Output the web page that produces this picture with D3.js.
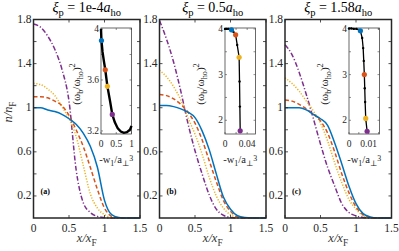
<!DOCTYPE html>
<html>
<head>
<meta charset="utf-8">
<script src="https://cdn.jsdelivr.net/npm/d3@7"></script>
<style>
body { margin: 0; background: #fff; }
svg { display: block; }
text { font-family: "Liberation Serif", "Times New Roman", "DejaVu Serif", serif; }
</style>
</head>
<body>
<svg id="fig" width="399" height="251"></svg>
<script>
// main density profiles, sampled on xGrid (x/x_F)
const xGrid = [0, 0.1, 0.2, 0.3, 0.4, 0.5, 0.6, 0.7, 0.8, 0.9, 1.0, 1.1, 1.2, 1.3, 1.4, 1.5];

const blueA   = [1.00, 1.00, 0.98, 0.965, 0.94, 0.90, 0.85, 0.77, 0.65, 0.46, 0.16, 0.03, 0.005, 0, 0, 0];
const orangeA = [1.10, 1.10, 1.09, 1.06, 1.02, 0.93, 0.80, 0.65, 0.46, 0.26, 0.09, 0.015, 0, 0, 0, 0];
const yellowA = [1.22, 1.21, 1.17, 1.11, 1.01, 0.90, 0.74, 0.48, 0.22, 0.09, 0.03, 0.005, 0, 0, 0, 0];
const purpleA = [1.76, 1.73, 1.65, 1.53, 1.35, 1.06, 0.44, 0.14, 0.05, 0.015, 0.004, 0, 0, 0, 0, 0];

const blueB   = [1.02, 1.02, 1.01, 0.99, 0.96, 0.91, 0.79, 0.62, 0.40, 0.19, 0.08, 0.02, 0.004, 0, 0, 0];
const orangeB = [1.12, 1.11, 1.08, 1.03, 0.96, 0.86, 0.71, 0.52, 0.33, 0.16, 0.06, 0.01, 0, 0, 0, 0];
const yellowB = [1.34, 1.28, 1.19, 1.07, 0.91, 0.76, 0.58, 0.37, 0.20, 0.09, 0.03, 0.005, 0, 0, 0, 0];
const purpleB = [1.79, 1.62, 1.41, 1.15, 0.86, 0.61, 0.40, 0.21, 0.08, 0.025, 0.005, 0, 0, 0, 0, 0];

const blueC   = [1.00, 1.00, 1.00, 0.98, 0.94, 0.90, 0.84, 0.68, 0.49, 0.29, 0.13, 0.04, 0.01, 0, 0, 0];
const orangeC = [1.07, 1.06, 1.03, 0.99, 0.94, 0.88, 0.77, 0.60, 0.40, 0.23, 0.10, 0.03, 0.005, 0, 0, 0];
const yellowC = [1.27, 1.22, 1.15, 1.06, 0.97, 0.86, 0.70, 0.50, 0.32, 0.17, 0.08, 0.02, 0, 0, 0, 0];
const purpleC = [1.57, 1.48, 1.32, 1.12, 0.90, 0.67, 0.46, 0.29, 0.13, 0.05, 0.02, 0.005, 0, 0, 0, 0];

// inset curves: -w1/a^3 vs (omega_b/omega_ho)^2
const wA  = [0, 0.015, 0.05, 0.1, 0.14, 0.21, 0.3, 0.37, 0.45, 0.55, 0.65, 0.75, 0.85, 0.95, 1.0];
const omA = [4.0, 3.91, 3.82, 3.74, 3.68, 3.55, 3.43, 3.33, 3.27, 3.22, 3.195, 3.185, 3.19, 3.21, 3.24];
const wB  = [0, 0.003, 0.006, 0.009, 0.0117, 0.015, 0.0192, 0.022, 0.0255, 0.0262, 0.0268, 0.0274];
const omB = [4.0, 4.0, 4.0, 3.995, 3.98, 3.94, 3.87, 3.65, 3.38, 2.85, 2.3, 1.77];
const wC  = [0, 0.0012, 0.0024, 0.0038, 0.0058, 0.0067, 0.0072, 0.0075, 0.0078, 0.008, 0.0082, 0.0085, 0.0092];
const omC = [4.01, 4.01, 4.0, 4.0, 3.96, 3.8, 3.58, 3.3, 3.0, 2.7, 2.4, 2.04, 1.76];

// index into the inset arrays of the coloured points (blue, orange, yellow, purple)
const dotIdxA = [1, 4, 5, 7];
const dotIdxB = [4, 6, 8, 11];
const dotIdxC = [4, 8, 11, 12];

const titleVals = ['1e-4', '0.5', '1.58'];
const panelTags = ['(a)', '(b)', '(c)'];
const xTicks = [0, 0.5, 1, 1.5];
const yTicks = [0.2, 0.4, 0.6, 0.8, 1, 1.2, 1.4, 1.6, 1.8];
const yLabels = [0.2, 0.6, 1, 1.4, 1.8];

const insetX = [[0, 1], [0, 0.055], [0, 0.0155]];
const insetY = [[3.176, 4.008], [1.7, 4.02], [1.7, 4.02]];
const insetXTicks = [[0, 0.5, 1], [0, 0.02, 0.04], [0, 0.005, 0.01, 0.015]];
const insetXLabels = [[0, 0.5, 1], [0, 0.04], [0, 0.01]];
const insetYTicks = [[3.2, 3.4, 3.6, 3.8, 4], [2, 2.5, 3, 3.5, 4], [2, 2.5, 3, 3.5, 4]];
const insetYLabels = [[3.2, 3.6, 4], [2, 3, 4], [2, 3, 4]];

const colors = ['#0072BD', '#D95319', '#EDB120', '#7E2F8E'];
const dashes = [null, '4,2.5', '1.2,1.6', '5,2,1.2,2'];
const axisColor = '#262626';
const serif = '"Liberation Serif", "Times New Roman", "DejaVu Serif", serif';

const panelData = [
  [blueA, orangeA, yellowA, purpleA],
  [blueB, orangeB, yellowB, purpleB],
  [blueC, orangeC, yellowC, purpleC],
];
const insetData = [[wA, omA, dotIdxA], [wB, omB, dotIdxB], [wC, omC, dotIdxC]];

const svg = d3.select('#fig').attr('font-family', serif);
const lefts = [33.5, 159.5, 285];
const pw = 106.5;
const plotTop = 19.5, plotBottom = 218;
const insLeft = [101, 225, 349];
const insW = 30.5, insTop = 28, insBottom = 134;

// small helper for text with sub/superscripts
function rich(sel, parts, size) {
  parts.forEach(([t, kind, ital]) => {
    const ts = sel.append('tspan').text(t);
    if (ital) ts.attr('font-style', 'italic');
    if (kind === 'sub') ts.attr('font-size', size * 0.75).attr('dy', size * 0.3);
    if (kind === 'sup') ts.attr('font-size', size * 0.75).attr('dy', -size * 0.45);
    if (kind === 'up') ts.attr('dy', -size * 0.3);
  });
}

panelData.forEach((series, i) => {
  const x = d3.scaleLinear().domain([0, 1.5]).range([lefts[i], lefts[i] + pw]);
  const y = d3.scaleLinear().domain([0, 1.8]).range([plotBottom, plotTop]);
  const g = svg.append('g');

  const line = d3.line()
    .x((d, k) => x(xGrid[k]))
    .y(d => y(d))
    .curve(d3.curveMonotoneX);

  // draw purple first so blue ends on top like the original
  [3, 2, 1, 0].forEach(s => {
    g.append('path')
      .attr('d', line(series[s]))
      .attr('fill', 'none')
      .attr('stroke', colors[s])
      .attr('stroke-width', 1.5)
      .attr('stroke-dasharray', dashes[s]);
  });

  // axes box + inward ticks
  g.append('rect')
    .attr('x', x(0)).attr('y', y(1.8))
    .attr('width', pw).attr('height', plotBottom - plotTop)
    .attr('fill', 'none').attr('stroke', axisColor).attr('stroke-width', 1.5);

  xTicks.forEach(t => {
    g.append('line').attr('x1', x(t)).attr('x2', x(t)).attr('y1', plotBottom).attr('y2', plotBottom - 3)
      .attr('stroke', axisColor).attr('stroke-width', 0.8);
    g.append('line').attr('x1', x(t)).attr('x2', x(t)).attr('y1', plotTop).attr('y2', plotTop + 3)
      .attr('stroke', axisColor).attr('stroke-width', 0.8);
    g.append('text').attr('x', x(t)).attr('y', 232)
      .attr('text-anchor', 'middle').attr('font-size', 11.5).attr('fill', axisColor)
      .text(t);
  });
  yTicks.forEach(t => {
    g.append('line').attr('x1', x(0)).attr('x2', x(0) + 3).attr('y1', y(t)).attr('y2', y(t))
      .attr('stroke', axisColor).attr('stroke-width', 0.8);
    g.append('line').attr('x1', x(1.5)).attr('x2', x(1.5) - 3).attr('y1', y(t)).attr('y2', y(t))
      .attr('stroke', axisColor).attr('stroke-width', 0.8);
  });
  yLabels.forEach(t => {
    g.append('text').attr('x', x(0) - 2).attr('y', y(t) + 3.5)
      .attr('text-anchor', 'end').attr('font-size', 11.5).attr('fill', axisColor)
      .text(t);
  });

  // title
  const tt = g.append('text').attr('x', x(0.75)).attr('y', 12)
    .attr('text-anchor', 'middle').attr('font-size', 14).attr('fill', '#000');
  rich(tt, [['ξ', '', true], ['p', 'sub'], [' = ' + titleVals[i], 'up'], ['a', '', true], ['ho', 'sub']], 14);

  // x label
  const xl = g.append('text').attr('x', x(0.75)).attr('y', 242)
    .attr('text-anchor', 'middle').attr('font-size', 12.5).attr('fill', '#333');
  rich(xl, [['x/x', '', true], ['F', 'sub']], 12.5);

  // panel tag
  g.append('text').attr('x', x(0.1)).attr('y', 194)
    .attr('font-size', 8).attr('font-weight', 'bold').text(panelTags[i]);

  // inset
  const [ws, oms, dots] = insetData[i];
  const ix = d3.scaleLinear().domain(insetX[i]).range([insLeft[i], insLeft[i] + insW]);
  const iy = d3.scaleLinear().domain(insetY[i]).range([insBottom, insTop]);
  const ig = svg.append('g');
  ig.append('rect')
    .attr('x', insLeft[i]).attr('y', insTop).attr('width', insW).attr('height', insBottom - insTop)
    .attr('fill', '#fff').attr('stroke', '#444').attr('stroke-width', 0.8);

  insetXTicks[i].forEach(t => {
    ig.append('line').attr('x1', ix(t)).attr('x2', ix(t)).attr('y1', insBottom).attr('y2', insBottom - 2)
      .attr('stroke', '#444').attr('stroke-width', 0.6);
    ig.append('line').attr('x1', ix(t)).attr('x2', ix(t)).attr('y1', insTop).attr('y2', insTop + 2)
      .attr('stroke', '#444').attr('stroke-width', 0.6);
  });
  insetYTicks[i].forEach(t => {
    ig.append('line').attr('x1', insLeft[i]).attr('x2', insLeft[i] + 2).attr('y1', iy(t)).attr('y2', iy(t))
      .attr('stroke', '#444').attr('stroke-width', 0.6);
    ig.append('line').attr('x1', insLeft[i] + insW).attr('x2', insLeft[i] + insW - 2).attr('y1', iy(t)).attr('y2', iy(t))
      .attr('stroke', '#444').attr('stroke-width', 0.6);
  });
  insetXLabels[i].forEach(t => {
    ig.append('text').attr('x', ix(t)).attr('y', 147)
      .attr('text-anchor', 'middle').attr('font-size', 9.5).attr('fill', axisColor).text(t);
  });
  insetYLabels[i].forEach(t => {
    ig.append('text').attr('x', insLeft[i] - 2).attr('y', iy(t) + 3)
      .attr('text-anchor', 'end').attr('font-size', 9.5).attr('fill', axisColor).text(t);
  });

  const iline = d3.line().x((d, k) => ix(ws[k])).y(d => iy(d));
  ig.append('path').attr('d', iline(oms))
    .attr('fill', 'none').attr('stroke', '#000').attr('stroke-width', i === 0 ? 2.4 : 1.3);
  if (i > 0) {
    ig.selectAll('.mk').data(oms).join('circle')
      .attr('cx', (d, k) => ix(ws[k])).attr('cy', d => iy(d)).attr('r', 1.2).attr('fill', '#000');
  }
  ig.selectAll('.dot').data(dots).join('circle')
    .attr('cx', k => ix(ws[k])).attr('cy', k => iy(oms[k]))
    .attr('r', 2.6).attr('fill', (k, j) => colors[j]);

  // inset labels
  const ixl = ig.append('text').attr('x', insLeft[i] + insW / 2).attr('y', 163)
    .attr('text-anchor', 'middle').attr('font-size', 10.5).attr('fill', '#222');
  rich(ixl, [['-w', ''], ['1', 'sub'], ['/a', 'up'], ['⊥', 'sub'], ['3', 'sup']], 10.5);

  const iyl = ig.append('text')
    .attr('transform', `translate(${insLeft[i] - 21},84) rotate(-90)`)
    .attr('text-anchor', 'middle').attr('font-size', 11).attr('fill', '#222');
  rich(iyl, [['(ω', ''], ['b', 'sub'], ['/ω', 'up'], ['ho', 'sub'], [')', 'up'], ['2', 'sup']], 11);
});

// y label
const yl = svg.append('text')
  .attr('transform', 'translate(12,112) rotate(-90)')
  .attr('text-anchor', 'middle').attr('font-size', 12.5).attr('fill', '#333');
rich(yl, [['n/n', '', true], ['F', 'sub']], 12.5);
</script>
</body>
</html>
